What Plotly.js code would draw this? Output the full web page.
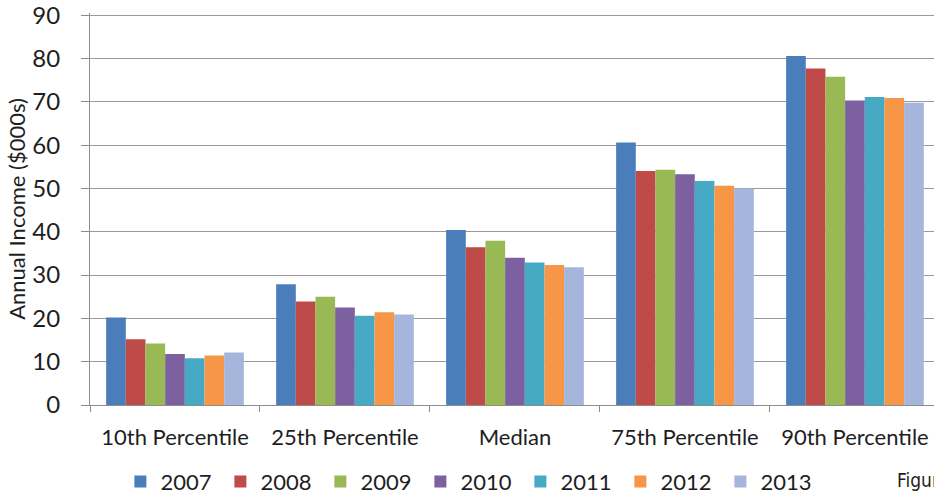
<!DOCTYPE html>
<html>
<head>
<meta charset="utf-8">
<script src="https://cdn.plot.ly/plotly-3.0.1.min.js"></script>
<style>
  html, body { margin: 0; padding: 0; background: #ffffff; }
  #chart { width: 934px; height: 495px; }
</style>
</head>
<body>
<div id="chart"></div>
<script>
// Income percentiles, annual income in thousands of dollars
const categories = ['10th Percentile', '25th Percentile', 'Median', '75th Percentile', '90th Percentile'];
const years = ['2007', '2008', '2009', '2010', '2011', '2012', '2013'];

const income2007 = [20.2, 27.9, 40.4, 60.6, 80.6];
const income2008 = [15.2, 23.9, 36.4, 54.0, 77.7];
const income2009 = [14.2, 25.0, 37.9, 54.3, 75.8];
const income2010 = [11.8, 22.5, 34.0, 53.3, 70.3];
const income2011 = [10.8, 20.6, 32.9, 51.7, 71.1];
const income2012 = [11.4, 21.4, 32.3, 50.6, 70.9];
const income2013 = [12.1, 20.9, 31.8, 50.0, 69.8];

const seriesValues = [income2007, income2008, income2009, income2010, income2011, income2012, income2013];
const seriesColors = ['#4a7ebb', '#be4b48', '#98b954', '#7d60a0', '#46aac5', '#f79646', '#a5b5dc'];

const yTicks = [0, 10, 20, 30, 40, 50, 60, 70, 80, 90];

const traces = years.map((yr, i) => ({
  type: 'bar',
  name: yr,
  x: categories,
  y: seriesValues[i],
  marker: { color: seriesColors[i], line: { width: 0 } },
  hoverinfo: 'x+y+name'
}));

const axisGray = '#8c8c8c';
const textColor = '#1e1e1e';

const layout = {
  width: 934,
  height: 495,
  margin: { l: 90, r: 0, t: 13, b: 90, autoexpand: false },
  paper_bgcolor: '#ffffff',
  plot_bgcolor: '#ffffff',
  font: { family: 'Lato, "Open Sans", sans-serif', color: textColor },
  barmode: 'group',
  bargap: 0.19,
  bargroupgap: 0,
  showlegend: true,
  legend: {
    orientation: 'h',
    x: 0.036,
    xanchor: 'left',
    y: -0.142,
    yanchor: 'top',
    entrywidth: 55,
    font: { size: 22, color: textColor },
    bgcolor: 'rgba(0,0,0,0)',
    traceorder: 'normal'
  },
  xaxis: {
    type: 'category',
    range: [-0.5, 4.465],
    showline: true,
    linecolor: axisGray,
    linewidth: 1,
    ticks: 'outside',
    tickson: 'boundaries',
    ticklen: 6,
    tickcolor: axisGray,
    showgrid: false,
    tickfont: { size: 22, color: textColor },
    ticklabelstandoff: 13,
    ticklabeloverflow: 'allow'
  },
  yaxis: {
    range: [0, 90.5],
    tickvals: yTicks,
    ticktext: yTicks.map(String),
    showline: true,
    linecolor: axisGray,
    linewidth: 1,
    ticks: 'outside',
    ticklen: 8,
    tickcolor: axisGray,
    showgrid: true,
    gridcolor: '#9a9a9a',
    gridwidth: 1,
    zeroline: false,
    tickfont: { size: 24, color: textColor },
    ticklabelstandoff: 16,
    ticklabeloverflow: 'allow',
    title: {
      text: 'Annual Income ($000s)',
      font: { size: 22, color: textColor },
      standoff: 0
    }
  },
  annotations: [{
    text: 'Figure',
    xref: 'paper',
    yref: 'paper',
    x: 0.954,
    y: -0.158,
    xanchor: 'left',
    yanchor: 'top',
    showarrow: false,
    font: { family: '"Liberation Sans Narrow", "DejaVu Sans Condensed", sans-serif', size: 19, color: textColor }
  }]
};

Plotly.newPlot('chart', traces, layout, { displayModeBar: false, staticPlot: true });
</script>
</body>
</html>
